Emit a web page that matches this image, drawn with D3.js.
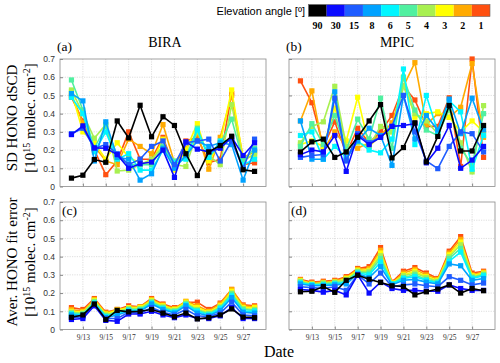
<!DOCTYPE html>
<html>
<head>
<meta charset="utf-8">
<script src="https://cdn.jsdelivr.net/npm/d3@7"></script>
<style>
  body { margin: 0; background: #fff; }
  text { font-family: "Liberation Serif", "DejaVu Serif", serif; }
</style>
</head>
<body>
<svg id="chart" width="500" height="363"></svg>
<script>
const dates = ["9/12","9/13","9/14","9/15","9/16","9/17","9/18","9/19","9/20","9/21","9/22","9/23","9/24","9/25","9/26","9/27","9/28"];
const angles = ["90","30","15","8","6","5","4","3","2","1"];
const angleColors = ["#000000","#0a0aff","#1e5cff","#00a2ff","#00f6ff","#50f0a0","#a8f050","#ffff00","#ffaa00","#ff5010"];
const xTicks = ["9/13","9/15","9/17","9/19","9/21","9/23","9/25","9/27"];
const yTicks = [0,0.1,0.2,0.3,0.4,0.5,0.6,0.7];

// SD HONO dSCD, BIRA (a)
const biraSD = {
  "90": [0.046,0.062,0.148,0.133,0.36,0.267,0.446,0.273,0.383,0.335,0.18,0.06,0.19,0.225,0.276,0.092,0.083],
  "30": [0.285,0.333,0.212,0.21,0.175,0.10,0.125,0.134,0.20,0.05,0.245,0.205,0.19,0.21,0.27,0.17,0.24],
  "15": [0.29,0.32,0.21,0.23,0.18,0.12,0.15,0.22,0.25,0.12,0.24,0.25,0.26,0.14,0.25,0.10,0.26],
  "8":  [0.51,0.47,0.14,0.355,0.16,0.15,0.035,0.07,0.21,0.10,0.17,0.25,0.22,0.24,0.23,0.035,0.20],
  "6":  [0.49,0.40,0.19,0.30,0.15,0.18,0.09,0.09,0.20,0.13,0.15,0.31,0.16,0.25,0.25,0.12,0.15],
  "5":  [0.585,0.42,0.21,0.33,0.17,0.12,0.12,0.12,0.22,0.14,0.16,0.32,0.16,0.23,0.37,0.14,0.21],
  "4":  [0.53,0.40,0.265,0.34,0.085,0.09,0.12,0.15,0.22,0.12,0.11,0.30,0.17,0.12,0.45,0.14,0.18],
  "3":  [0.52,0.30,0.24,0.15,0.24,0.16,0.13,0.13,0.26,0.09,0.20,0.345,0.14,0.24,0.53,0.15,0.17],
  "2":  [0.50,0.35,0.22,0.14,0.12,0.26,0.22,0.18,0.34,0.13,0.21,0.29,0.095,0.27,0.50,0.16,0.19],
  "1":  [0.49,0.36,0.20,0.065,0.14,0.30,0.15,0.15,0.27,0.10,0.25,0.27,0.13,0.15,0.51,0.12,0.13]
};

// SD HONO dSCD, MPIC (b)
const mpicSD = {
  "90": [0.19,0.245,0.26,0.16,0.19,0.27,0.36,0.45,0.157,0.214,0.35,0.135,0.275,0.445,0.195,0.195,0.335],
  "30": [0.175,0.20,0.19,0.28,0.083,0.28,0.23,0.27,0.33,0.335,0.345,0.13,0.21,0.335,0.10,0.145,0.22],
  "15": [0.16,0.17,0.175,0.485,0.14,0.29,0.24,0.27,0.33,0.50,0.30,0.14,0.098,0.22,0.30,0.29,0.19],
  "8":  [0.36,0.15,0.15,0.52,0.15,0.25,0.32,0.28,0.116,0.50,0.26,0.39,0.31,0.48,0.29,0.485,0.31],
  "6":  [0.28,0.30,0.15,0.22,0.16,0.25,0.20,0.185,0.26,0.645,0.23,0.50,0.30,0.47,0.41,0.095,0.28],
  "5":  [0.22,0.345,0.23,0.39,0.20,0.37,0.26,0.485,0.21,0.60,0.42,0.31,0.28,0.43,0.21,0.12,0.40],
  "4":  [0.24,0.33,0.355,0.55,0.22,0.24,0.22,0.33,0.30,0.55,0.40,0.36,0.29,0.42,0.24,0.08,0.444],
  "3":  [0.23,0.25,0.22,0.43,0.25,0.49,0.22,0.28,0.30,0.60,0.38,0.40,0.41,0.38,0.30,0.36,0.30],
  "2":  [0.36,0.525,0.20,0.30,0.22,0.21,0.24,0.28,0.35,0.55,0.68,0.34,0.40,0.38,0.435,0.675,0.27],
  "1":  [0.58,0.46,0.22,0.355,0.18,0.32,0.24,0.30,0.39,0.55,0.475,0.33,0.33,0.487,0.11,0.70,0.16]
};

// average fit error, BIRA (c)
const biraErr = {
  "90": [0.067,0.08,0.14,0.055,0.105,0.097,0.10,0.11,0.09,0.07,0.09,0.058,0.065,0.08,0.113,0.068,0.065],
  "30": [0.055,0.06,0.13,0.05,0.045,0.085,0.085,0.10,0.08,0.065,0.08,0.06,0.06,0.075,0.12,0.06,0.06],
  "15": [0.065,0.07,0.135,0.06,0.06,0.095,0.09,0.12,0.095,0.08,0.11,0.075,0.07,0.09,0.15,0.08,0.075],
  "8":  [0.08,0.075,0.14,0.065,0.08,0.10,0.10,0.14,0.11,0.09,0.13,0.09,0.075,0.105,0.175,0.095,0.09],
  "6":  [0.085,0.08,0.145,0.07,0.09,0.105,0.105,0.145,0.115,0.095,0.135,0.10,0.08,0.115,0.185,0.10,0.10],
  "5":  [0.09,0.085,0.15,0.075,0.095,0.11,0.11,0.15,0.12,0.10,0.14,0.105,0.085,0.12,0.195,0.11,0.105],
  "4":  [0.095,0.09,0.155,0.08,0.10,0.115,0.115,0.155,0.125,0.105,0.145,0.11,0.09,0.125,0.20,0.115,0.11],
  "3":  [0.10,0.095,0.16,0.085,0.105,0.12,0.12,0.16,0.13,0.11,0.15,0.12,0.095,0.13,0.21,0.12,0.12],
  "2":  [0.11,0.10,0.165,0.09,0.11,0.12,0.125,0.165,0.135,0.115,0.155,0.13,0.10,0.14,0.22,0.13,0.125],
  "1":  [0.12,0.11,0.17,0.095,0.11,0.13,0.125,0.17,0.14,0.12,0.15,0.15,0.11,0.145,0.22,0.135,0.13]
};

// average fit error, MPIC (d)
const mpicErr = {
  "90": [0.207,0.21,0.236,0.204,0.27,0.298,0.276,0.258,0.24,0.236,0.19,0.207,0.222,0.245,0.20,0.225,0.213],
  "30": [0.22,0.215,0.205,0.215,0.19,0.30,0.20,0.26,0.225,0.215,0.215,0.21,0.21,0.245,0.225,0.215,0.215],
  "15": [0.235,0.23,0.225,0.235,0.215,0.30,0.25,0.31,0.235,0.245,0.25,0.24,0.235,0.29,0.27,0.245,0.255],
  "8":  [0.25,0.24,0.24,0.245,0.25,0.305,0.285,0.345,0.245,0.27,0.275,0.26,0.25,0.36,0.35,0.27,0.28],
  "6":  [0.255,0.245,0.245,0.25,0.26,0.31,0.30,0.37,0.25,0.28,0.29,0.27,0.255,0.375,0.425,0.28,0.295],
  "5":  [0.26,0.245,0.25,0.255,0.265,0.315,0.31,0.39,0.25,0.285,0.30,0.275,0.26,0.39,0.445,0.285,0.30],
  "4":  [0.265,0.25,0.255,0.26,0.275,0.32,0.32,0.405,0.25,0.295,0.31,0.285,0.265,0.40,0.465,0.29,0.305],
  "3":  [0.27,0.25,0.255,0.26,0.28,0.325,0.325,0.42,0.255,0.30,0.32,0.29,0.27,0.41,0.48,0.295,0.31],
  "2":  [0.27,0.255,0.26,0.265,0.285,0.33,0.335,0.435,0.255,0.31,0.33,0.30,0.275,0.42,0.495,0.30,0.315],
  "1":  [0.275,0.26,0.265,0.27,0.29,0.335,0.345,0.45,0.26,0.32,0.34,0.31,0.28,0.43,0.51,0.31,0.32]
};

const svg = d3.select("#chart");
const parse = s => { const [m, d] = s.split("/").map(Number); return new Date(2016, m - 1, d); };
const color = d3.scaleOrdinal(angles, angleColors);

const panelW = 206, panelH = 127.5;
const panels = [
  {tag: "(a)", data: biraSD, left: 60, top: 59, title: "BIRA", titleX: 165, yLabels: true, xLabels: false, tagInside: false},
  {tag: "(b)", data: mpicSD, left: 289, top: 59, title: "MPIC", titleX: 397, yLabels: false, xLabels: false, tagInside: false},
  {tag: "(c)", data: biraErr, left: 60, top: 202, yLabels: true, xLabels: true, tagInside: true},
  {tag: "(d)", data: mpicErr, left: 289, top: 202, yLabels: false, xLabels: true, tagInside: true}
];

panels.forEach(p => {
  const x = d3.scaleTime().domain([parse("9/11"), parse("9/29")]).range([p.left, p.left + panelW]);
  const y = d3.scaleLinear().domain([0, 0.7]).range([p.top + panelH, p.top]);
  const g = svg.append("g");

  // grid
  g.selectAll(".hg").data(yTicks.slice(1, -1)).join("line")
    .attr("x1", p.left).attr("x2", p.left + panelW)
    .attr("y1", d => y(d)).attr("y2", d => y(d))
    .attr("stroke", "#d0d0d0").attr("stroke-width", 0.7).attr("stroke-dasharray", "1.2,1.2");
  g.selectAll(".vg").data(xTicks).join("line")
    .attr("x1", d => x(parse(d))).attr("x2", d => x(parse(d)))
    .attr("y1", p.top).attr("y2", p.top + panelH)
    .attr("stroke", "#d0d0d0").attr("stroke-width", 0.7).attr("stroke-dasharray", "1.2,1.2");

  // axes
  const yAxis = d3.axisLeft(y).tickValues(yTicks).tickSize(-3)
    .tickFormat(p.yLabels ? d3.format("") : "");
  const ya = g.append("g").attr("transform", `translate(${p.left},0)`).call(yAxis);
  ya.select(".domain").remove();
  ya.selectAll("line").attr("stroke", "#888");
  ya.selectAll("text").attr("fill", "#333").attr("x", -5)
    .style("font-family", "'Liberation Sans', Arial, sans-serif").style("font-size", "8.5px");

  const xAxis = d3.axisBottom(x).tickValues(xTicks.map(parse)).tickSize(-3)
    .tickFormat(p.xLabels ? d3.timeFormat("%-m/%-d") : "");
  const xa = g.append("g").attr("transform", `translate(0,${p.top + panelH})`).call(xAxis);
  xa.select(".domain").remove();
  xa.selectAll("line").attr("stroke", "#888");
  xa.selectAll("text").attr("fill", "#333").attr("y", 5)
    .style("font-family", "'Liberation Serif', serif").style("font-size", "7.5px");

  g.append("rect").attr("x", p.left).attr("y", p.top).attr("width", panelW).attr("height", panelH)
    .attr("fill", "none").attr("stroke", "#8a8a8a").attr("stroke-width", 0.8);

  // series, from 1 deg up to zenith (black on top)
  const line = d3.line().x((d, i) => x(parse(dates[i]))).y(d => y(d));
  angles.slice().reverse().forEach(a => {
    const vals = p.data[a];
    g.append("path").datum(vals).attr("d", line)
      .attr("fill", "none").attr("stroke", color(a)).attr("stroke-width", 1.6);
    g.selectAll(null).data(vals).join("rect")
      .attr("x", (d, i) => x(parse(dates[i])) - 2.6).attr("y", d => y(d) - 2.6)
      .attr("width", 5.2).attr("height", 5.2).attr("fill", color(a));
  });

  if (p.title) {
    svg.append("text").attr("x", p.titleX).attr("y", 47).attr("text-anchor", "middle")
      .style("font-size", "14px").text(p.title);
  }
  svg.append("text").attr("x", p.left - 3 + (p.tagInside ? 5 : 0)).attr("y", p.tagInside ? p.top + 13 : 51)
    .style("font-size", "13.5px").text(p.tag);
});

// y labels
const yLab = [
  {l1: "SD HONO dSCD", cy: 118},
  {l1: "Aver. HONO fit error", cy: 262}
];
yLab.forEach(d => {
  svg.append("text").attr("transform", `translate(17,${d.cy}) rotate(-90)`)
    .attr("text-anchor", "middle").style("font-size", "15px").text(d.l1);
  const t2 = svg.append("text").attr("transform", `translate(35,${d.cy}) rotate(-90)`)
    .attr("text-anchor", "middle").style("font-size", "15px");
  t2.append("tspan").text("[10");
  t2.append("tspan").attr("dy", -5).style("font-size", "10px").text("15");
  t2.append("tspan").attr("dy", 5).text(" molec. cm");
  t2.append("tspan").attr("dy", -5).style("font-size", "10px").text("-2");
  t2.append("tspan").attr("dy", 5).text("]");
});

svg.append("text").attr("x", 279).attr("y", 357).attr("text-anchor", "middle")
  .style("font-size", "16px").text("Date");

// colorbar legend
const cb = d3.scaleBand().domain(angles).range([308.5, 490]);
svg.selectAll(".cb").data(angles).join("rect")
  .attr("x", d => cb(d)).attr("y", 4.5).attr("width", cb.bandwidth()).attr("height", 12)
  .attr("fill", d => color(d));
svg.append("rect").attr("x", 308.5).attr("y", 4.5).attr("width", 181.5).attr("height", 12)
  .attr("fill", "none").attr("stroke", "#666").attr("stroke-width", 0.6);
svg.selectAll(".cbl").data(angles).join("text")
  .attr("x", d => cb(d) + cb.bandwidth() / 2).attr("y", 29).attr("text-anchor", "middle")
  .style("font-size", "10px").style("font-weight", "bold").text(d => d);
svg.append("text").attr("x", 305).attr("y", 15).attr("text-anchor", "end")
  .style("font-family", "'Liberation Sans', Arial, sans-serif").style("font-size", "11px")
  .text("Elevation angle [º]");
</script>
</body>
</html>
